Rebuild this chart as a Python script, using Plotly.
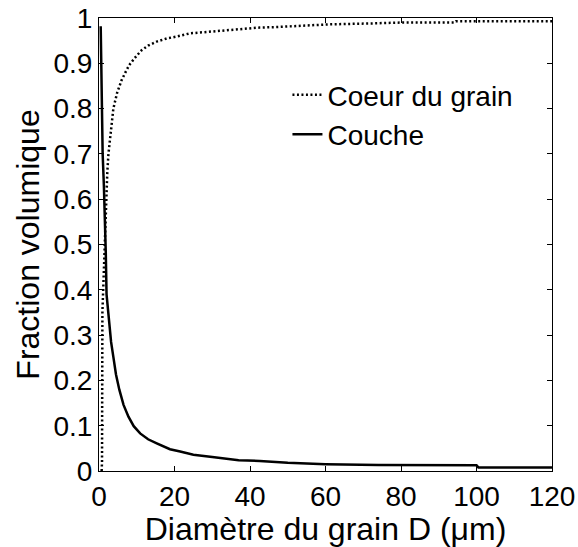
import plotly.graph_objects as go

# Coeur du grain (dotted)
coeur_d = [0.7, 0.8, 0.9, 1.2, 1.6, 1.9, 2.2, 2.5, 3.0, 3.8, 4.8, 6.0, 7.0, 8.0, 9.5,
           11.3, 13.0, 15.3, 18.0, 20.6, 24.0, 30.0, 37.4, 42.6, 47.0, 53.0, 61.0,
           72.0, 80.0, 94.0, 94.5, 120.0]
coeur_v = [0.0, 0.02, 0.35, 0.42, 0.50, 0.613, 0.66, 0.70, 0.745, 0.80, 0.835, 0.863,
           0.88, 0.896, 0.912, 0.929, 0.939, 0.948, 0.955, 0.959, 0.966, 0.970, 0.975,
           0.979, 0.980, 0.982, 0.986, 0.988, 0.990, 0.990, 0.993, 0.993]

# Couche (solid)
couche_d = [0.45, 0.7, 0.97, 1.3, 1.6, 1.8, 2.0, 2.65, 3.2, 3.8, 4.5, 5.4, 6.5, 7.8, 9.2,
            10.9, 13.0, 15.3, 18.8, 21.5, 25.0, 30.0, 37.0, 42.6, 50.0, 60.0, 74.0,
            100.0, 100.5, 120.0]
couche_v = [0.982, 0.775, 0.70, 0.628, 0.554, 0.48, 0.39, 0.327, 0.285, 0.252, 0.213,
            0.179, 0.146, 0.12, 0.099, 0.083, 0.070, 0.061, 0.048, 0.043, 0.036, 0.031,
            0.024, 0.022, 0.018, 0.015, 0.013, 0.0125, 0.008, 0.008]

x_ticks = [0, 20, 40, 60, 80, 100, 120]
y_ticks = [0, 0.1, 0.2, 0.3, 0.4, 0.5, 0.6, 0.7, 0.8, 0.9, 1]
y_tick_text = ["0", "0.1", "0.2", "0.3", "0.4", "0.5", "0.6", "0.7", "0.8", "0.9", "1"]

FONT = "Liberation Sans, Arial, sans-serif"

fig = go.Figure()
fig.add_trace(go.Scatter(x=coeur_d, y=coeur_v, mode="lines", name="Coeur du grain",
                         line=dict(color="black", width=2.5, dash="2px,2.5px")))
fig.add_trace(go.Scatter(x=couche_d, y=couche_v, mode="lines", name="Couche",
                         line=dict(color="black", width=2.5)))

axis_common = dict(showline=True, linecolor="black", linewidth=1, mirror="ticks",
                   ticks="inside", ticklen=5, tickcolor="black", showgrid=False,
                   zeroline=False, automargin=False, ticklabeloverflow="allow",
                   tickfont=dict(family=FONT, size=28, color="black"))

fig.update_layout(
    width=578, height=547,
    margin=dict(l=99, r=26, t=18, b=76),
    paper_bgcolor="white", plot_bgcolor="white",
    font=dict(family=FONT, color="black"),
    xaxis=dict(range=[0, 120], tickvals=x_ticks,
               title=dict(text="Diamètre du grain D (μm)", font=dict(family=FONT, size=32),
                          standoff=0),
               **axis_common),
    yaxis=dict(range=[0, 1], tickvals=y_ticks, ticktext=y_tick_text,
               title=dict(text="Fraction volumique", font=dict(family=FONT, size=32),
                          standoff=4),
               **axis_common),
    legend=dict(x=0.416, y=0.885, xanchor="left", yanchor="top", bgcolor="rgba(0,0,0,0)",
                font=dict(family=FONT, size=28, color="black"), tracegroupgap=0),
    showlegend=True,
)

fig.write_html("out.html", config={"displayModeBar": False},
               post_script="document.body.style.margin='0';document.body.style.overflow='hidden';")
